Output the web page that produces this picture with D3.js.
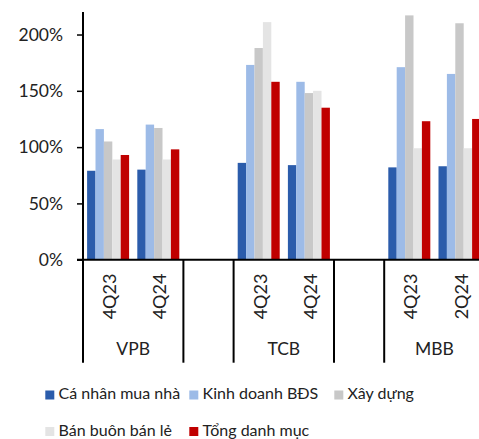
<!DOCTYPE html>
<html>
<head>
<meta charset="utf-8">
<script src="https://cdn.jsdelivr.net/npm/d3@7/dist/d3.min.js"></script>
<style>
  html, body { margin: 0; padding: 0; background: #fff; overflow: hidden; }
  svg { display: block; font-family: "Nunito Sans", Lato, "Noto Sans", sans-serif; }
</style>
</head>
<body>
<svg id="chart" width="479" height="439"></svg>
<script>
// Banks and the reporting periods shown under each one
const banks = ["VPB", "TCB", "MBB"];
const periods = [["4Q23", "4Q24"], ["4Q23", "4Q24"], ["4Q23", "2Q24"]];

// Series (loan segments) and their colours
const seriesNames = ["Cá nhân mua nhà", "Kinh doanh BĐS", "Xây dựng", "Bán buôn bán lẻ", "Tổng danh mục"];
const seriesColors = ["#2B5CAB", "#9DBBE7", "#C8C8C8", "#E4E4E4", "#C00000"];

// Values per series, in order VPB 4Q23, VPB 4Q24, TCB 4Q23, TCB 4Q24, MBB 4Q23, MBB 2Q24
const caNhanMuaNha   = [0.79, 0.80, 0.86, 0.84, 0.82, 0.83];
const kinhDoanhBDS   = [1.16, 1.20, 1.73, 1.58, 1.71, 1.65];
const xayDung        = [1.05, 1.17, 1.88, 1.48, 2.17, 2.10];
const banBuonBanLe   = [0.89, 0.89, 2.11, 1.50, 0.99, 0.99];
const tongDanhMuc    = [0.93, 0.98, 1.58, 1.35, 1.23, 1.25];
const seriesValues = [caNhanMuaNha, kinhDoanhBDS, xayDung, banBuonBanLe, tongDanhMuc];

// Y-axis tick values
const yTicks = [0, 0.5, 1, 1.5, 2];

const svg = d3.select("#chart");
const margin = { left: 83, top: 12, bottom: 259.7 };
const slotW = 50.2;

// Build slot list: each bank's periods, with an empty slot between banks
const slots = [];
const rows = [];
let r = 0;
banks.forEach((b, bi) => {
  if (bi > 0) slots.push("gap" + bi);
  periods[bi].forEach(p => {
    const key = b + "|" + p;
    slots.push(key);
    rows.push({ key, bank: b, period: p, idx: r++ });
  });
});

const x0 = d3.scaleBand()
  .domain(slots)
  .range([margin.left, margin.left + slotW * slots.length])
  .paddingInner(0).paddingOuter(0);

const x1 = d3.scaleBand()
  .domain(d3.range(seriesNames.length))
  .range([4.1, slotW - 4.1])
  .paddingInner(0);

const y = d3.scaleLinear().domain([0, 2.2]).range([margin.bottom, margin.top]);

// Bars
const g = svg.append("g");
rows.forEach(row => {
  const grp = g.append("g").attr("transform", `translate(${x0(row.key)},0)`);
  seriesValues.forEach((vals, si) => {
    grp.append("rect")
      .attr("x", x1(si))
      .attr("y", y(vals[row.idx]))
      .attr("width", x1.bandwidth())
      .attr("height", y(0) - y(vals[row.idx]))
      .attr("fill", seriesColors[si]);
  });
});

// Y axis
const yAxis = d3.axisLeft(y)
  .tickValues(yTicks)
  .tickSize(6)
  .tickPadding(14)
  .tickFormat(d => Math.round(d * 100) + "%");
const ya = svg.append("g").attr("transform", `translate(${margin.left},0)`).call(yAxis);
ya.select(".domain").remove();
ya.selectAll(".tick line").attr("stroke", "#000").attr("stroke-width", 1.5);
ya.selectAll(".tick text").attr("font-size", 17.5).attr("fill", "#222")
  .attr("font-family", "Lato, sans-serif");

const catBottom = 362.7;
// Vertical axis line running into the category area
svg.append("line")
  .attr("x1", margin.left).attr("x2", margin.left)
  .attr("y1", margin.top).attr("y2", catBottom)
  .attr("stroke", "#000").attr("stroke-width", 2);

// Baseline
svg.append("line")
  .attr("x1", margin.left - 6).attr("x2", x0.range()[1])
  .attr("y1", y(0)).attr("y2", y(0))
  .attr("stroke", "#000").attr("stroke-width", 2);

// Group separators at every group edge
const edges = [];
slots.forEach(s => {
  if (s.startsWith("gap")) { edges.push(x0(s)); edges.push(x0(s) + slotW); }
});
edges.push(x0.range()[1]);
edges.forEach(ex => {
  svg.append("line")
    .attr("x1", ex).attr("x2", ex)
    .attr("y1", y(0)).attr("y2", catBottom)
    .attr("stroke", "#000").attr("stroke-width", 2);
});

// Period labels, rotated
rows.forEach(row => {
  const cx = x0(row.key) + slotW / 2;
  svg.append("text")
    .attr("transform", `translate(${cx + 1},296.5) rotate(-90)`)
    .attr("text-anchor", "middle")
    .attr("dominant-baseline", "central")
    .attr("font-size", 18)
    .attr("font-family", "Lato, sans-serif")
    .attr("fill", "#222")
    .text(row.period);
});

// Bank labels
banks.forEach((b, bi) => {
  const keys = periods[bi].map(p => b + "|" + p);
  const cx = (x0(keys[0]) + x0(keys[keys.length - 1]) + slotW) / 2;
  svg.append("text")
    .attr("x", cx).attr("y", 355)
    .attr("text-anchor", "middle")
    .attr("font-size", 17.5)
    .attr("font-family", "Lato, sans-serif")
    .attr("fill", "#222")
    .text(b);
});

// Legend
const legendPos = [[45.3, 390.5], [189.3, 390.5], [334.3, 390.5], [45.3, 427], [189.3, 427]];
seriesNames.forEach((name, i) => {
  const [lx, ly] = legendPos[i];
  svg.append("rect").attr("x", lx).attr("y", ly).attr("width", 9).attr("height", 9)
    .attr("fill", seriesColors[i]);
  svg.append("text")
    .attr("x", lx + 13.3).attr("y", ly + 8.7)
    .attr("font-size", 16)
    .attr("font-family", "Lato, sans-serif")
    .attr("fill", "#222")
    .text(name);
});
</script>
</body>
</html>
